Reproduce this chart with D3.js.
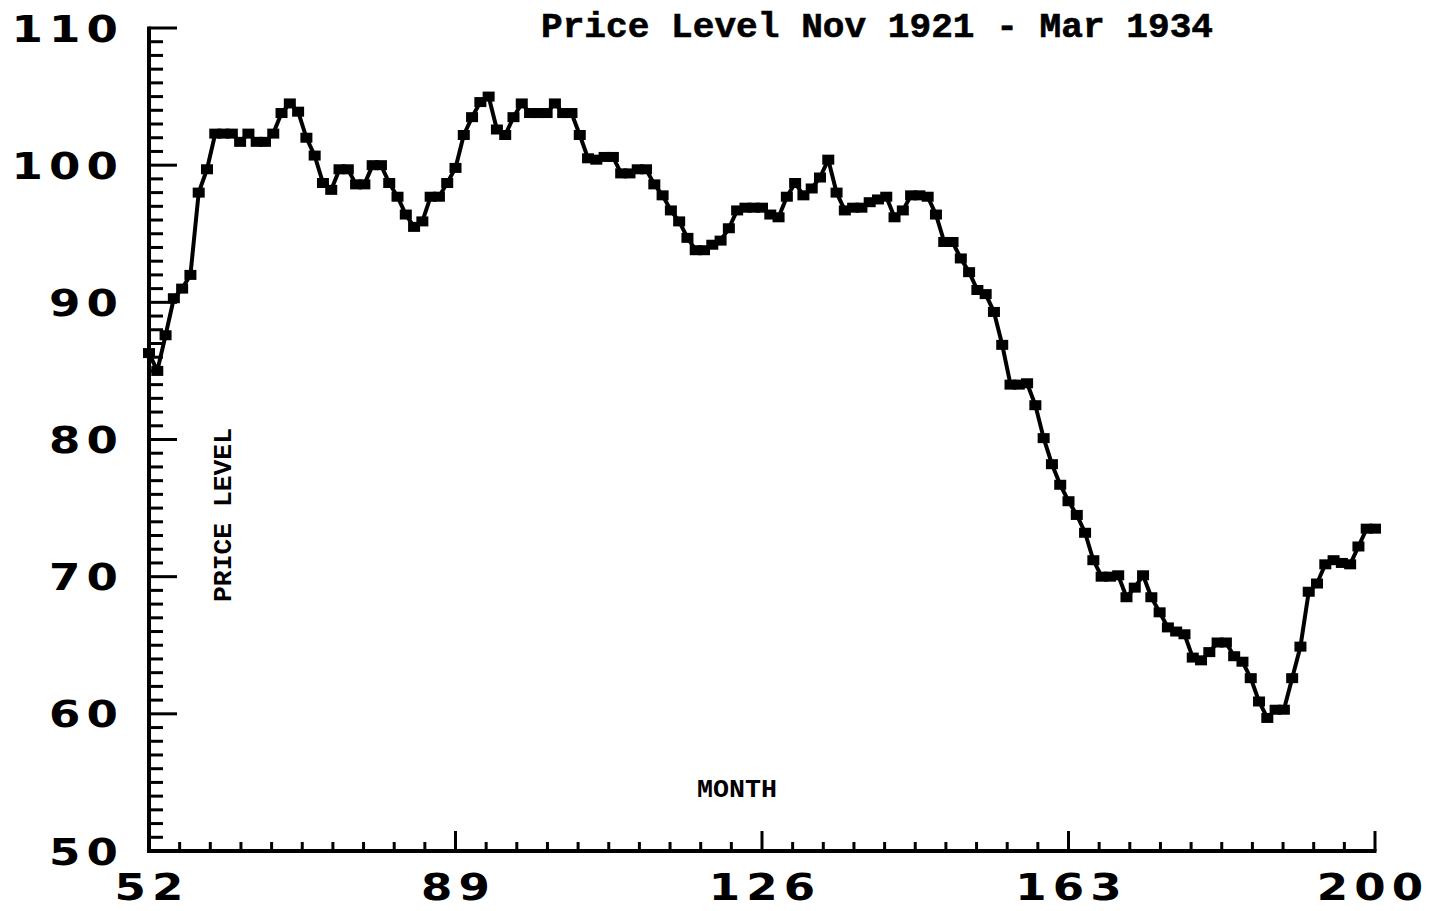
<!DOCTYPE html>
<html>
<head>
<meta charset="utf-8">
<script src="https://cdn.jsdelivr.net/npm/d3@7"></script>
<style>
  html, body { margin: 0; padding: 0; background: #fff; }
  svg { display: block; }
</style>
</head>
<body>
<svg id="chart" width="1433" height="911"></svg>
<script>
// ---- data ----
const titleText = "Price Level Nov 1921 - Mar 1934";
const yAxisTitle = "PRICE LEVEL";
const xAxisTitle = "MONTH";
const firstMonth = 52;
const priceLevel = [
  86.3, 85.0, 87.6, 90.3, 91.0, 92.0, 98.0, 99.7, 102.3, 102.3,
  102.3, 101.7, 102.3, 101.7, 101.7, 102.3, 103.8, 104.5, 103.9, 102.0,
  100.7, 98.7, 98.2, 99.7, 99.7, 98.6, 98.6, 100.0, 100.0, 98.7,
  97.7, 96.4, 95.5, 95.9, 97.7, 97.7, 98.7, 99.8, 102.2, 103.5,
  104.6, 105.0, 102.6, 102.2, 103.5, 104.5, 103.8, 103.8, 103.8, 104.5,
  103.8, 103.8, 102.2, 100.5, 100.4, 100.6, 100.6, 99.4, 99.4, 99.7,
  99.7, 98.6, 97.8, 96.7, 95.9, 94.7, 93.8, 93.8, 94.2, 94.5,
  95.4, 96.7, 96.9, 96.9, 96.9, 96.4, 96.2, 97.7, 98.7, 97.8,
  98.3, 99.1, 100.4, 98.0, 96.7, 96.9, 96.9, 97.3, 97.5, 97.7,
  96.2, 96.7, 97.8, 97.8, 97.7, 96.4, 94.4, 94.4, 93.2, 92.2,
  90.9, 90.6, 89.3, 86.9, 84.0, 84.0, 84.1, 82.5, 80.1, 78.2,
  76.7, 75.5, 74.5, 73.2, 71.2, 70.0, 70.0, 70.1, 68.5, 69.2,
  70.1, 68.5, 67.4, 66.3, 66.0, 65.8, 64.1, 63.9, 64.5, 65.2,
  65.2, 64.2, 63.8, 62.6, 60.9, 59.7, 60.3, 60.3, 62.6, 64.9,
  68.9, 69.5, 70.9, 71.2, 71.0, 70.9, 72.2, 73.5, 73.5
];
const months = priceLevel.map((v, i) => firstMonth + i);
const xMajorTicks = [52, 89, 126, 163, 200];
const yMajorTicks = [50, 60, 70, 80, 90, 100, 110];

// ---- layout ----
const svg = d3.select("#chart");
const x = d3.scaleLinear().domain([52, 200]).range([149, 1375]);
const y = d3.scaleLinear().domain([50, 110]).range([851, 28]);

const xMinor = [];
for (let i = 0; i < xMajorTicks.length - 1; i++) {
  const a = xMajorTicks[i], b = xMajorTicks[i + 1];
  for (let k = 1; k < 10; k++) xMinor.push(a + (b - a) * k / 10);
}
const yMinor = [];
for (let v = 50; v <= 110; v++) if (v % 10 !== 0) yMinor.push(v);

const axisColor = "#000";
const g = svg.append("g");

// y axis minor ticks
g.append("g").selectAll("line").data(yMinor).join("line")
  .attr("x1", x(52)).attr("x2", x(52) + 14)
  .attr("y1", d => y(d)).attr("y2", d => y(d))
  .attr("stroke", axisColor).attr("stroke-width", 3);
// y axis major ticks
g.append("g").selectAll("line").data(yMajorTicks.filter(d => d !== 50)).join("line")
  .attr("x1", x(52)).attr("x2", x(52) + 28)
  .attr("y1", d => y(d)).attr("y2", d => y(d))
  .attr("stroke", axisColor).attr("stroke-width", 3);
// x axis minor ticks
g.append("g").selectAll("line").data(xMinor).join("line")
  .attr("x1", d => x(d)).attr("x2", d => x(d))
  .attr("y1", y(50)).attr("y2", y(50) - 9)
  .attr("stroke", axisColor).attr("stroke-width", 3);
// x axis major ticks
g.append("g").selectAll("line").data(xMajorTicks.filter(d => d !== 52)).join("line")
  .attr("x1", d => x(d)).attr("x2", d => x(d))
  .attr("y1", y(50)).attr("y2", y(50) - 20)
  .attr("stroke", axisColor).attr("stroke-width", 3);
// axis lines
g.append("line").attr("x1", x(52)).attr("x2", x(52)).attr("y1", y(110) - 1.5).attr("y2", y(50) + 2)
  .attr("stroke", axisColor).attr("stroke-width", 4);
g.append("line").attr("x1", x(52) - 2).attr("x2", x(200) + 1.5).attr("y1", y(50)).attr("y2", y(50))
  .attr("stroke", axisColor).attr("stroke-width", 4);

// tick labels (wide bold digits)
const tickFont = "'DejaVu Sans', sans-serif";
const sx = 1.22, ls = 5;
g.append("g").selectAll("text").data(yMajorTicks).join("text")
  .attr("transform", d => `translate(118,${y(d) + 13.5}) scale(${sx},1)`)
  .attr("text-anchor", "end").attr("dx", ls)
  .attr("font-family", tickFont).attr("font-weight", "bold")
  .attr("font-size", 37).attr("letter-spacing", ls)
  .attr("fill", "#000")
  .text(d => d);
g.append("g").selectAll("text").data(xMajorTicks).join("text")
  .attr("transform", d => `translate(${x(d) - (d === 200 ? 5 : 0)},900) scale(${sx},1)`)
  .attr("text-anchor", "middle").attr("dx", ls / 2)
  .attr("font-family", tickFont).attr("font-weight", "bold")
  .attr("font-size", 37).attr("letter-spacing", ls)
  .attr("fill", "#000")
  .text(d => d);

// titles
svg.append("text")
  .attr("x", 541).attr("y", 37)
  .attr("font-family", "'Liberation Mono', monospace").attr("font-weight", "bold")
  .attr("font-size", 35).attr("textLength", 672).attr("lengthAdjust", "spacingAndGlyphs")
  .attr("fill", "#000").attr("stroke", "#000").attr("stroke-width", 0.6)
  .text(titleText);
svg.append("text")
  .attr("transform", "translate(231,602) rotate(-90)")
  .attr("font-family", "'Liberation Mono', monospace").attr("font-weight", "bold")
  .attr("font-size", 26).attr("textLength", 174).attr("lengthAdjust", "spacingAndGlyphs")
  .attr("fill", "#000").text(yAxisTitle);
svg.append("text")
  .attr("x", 697).attr("y", 797)
  .attr("font-family", "'Liberation Mono', monospace").attr("font-weight", "bold")
  .attr("font-size", 26).attr("textLength", 80).attr("lengthAdjust", "spacingAndGlyphs")
  .attr("fill", "#000").text(xAxisTitle);

// data line
const data = months.map((m, i) => ({ m, v: priceLevel[i] }));
const line = d3.line().x(d => x(d.m)).y(d => y(d.v));
svg.append("path").datum(data)
  .attr("d", line)
  .attr("fill", "none").attr("stroke", "#000").attr("stroke-width", 4)
  .attr("stroke-linejoin", "round");
svg.append("g").selectAll("rect").data(data).join("rect")
  .attr("x", d => x(d.m) - 6).attr("y", d => y(d.v) - 5)
  .attr("width", 12).attr("height", 10)
  .attr("fill", "#000");
</script>
</body>
</html>
